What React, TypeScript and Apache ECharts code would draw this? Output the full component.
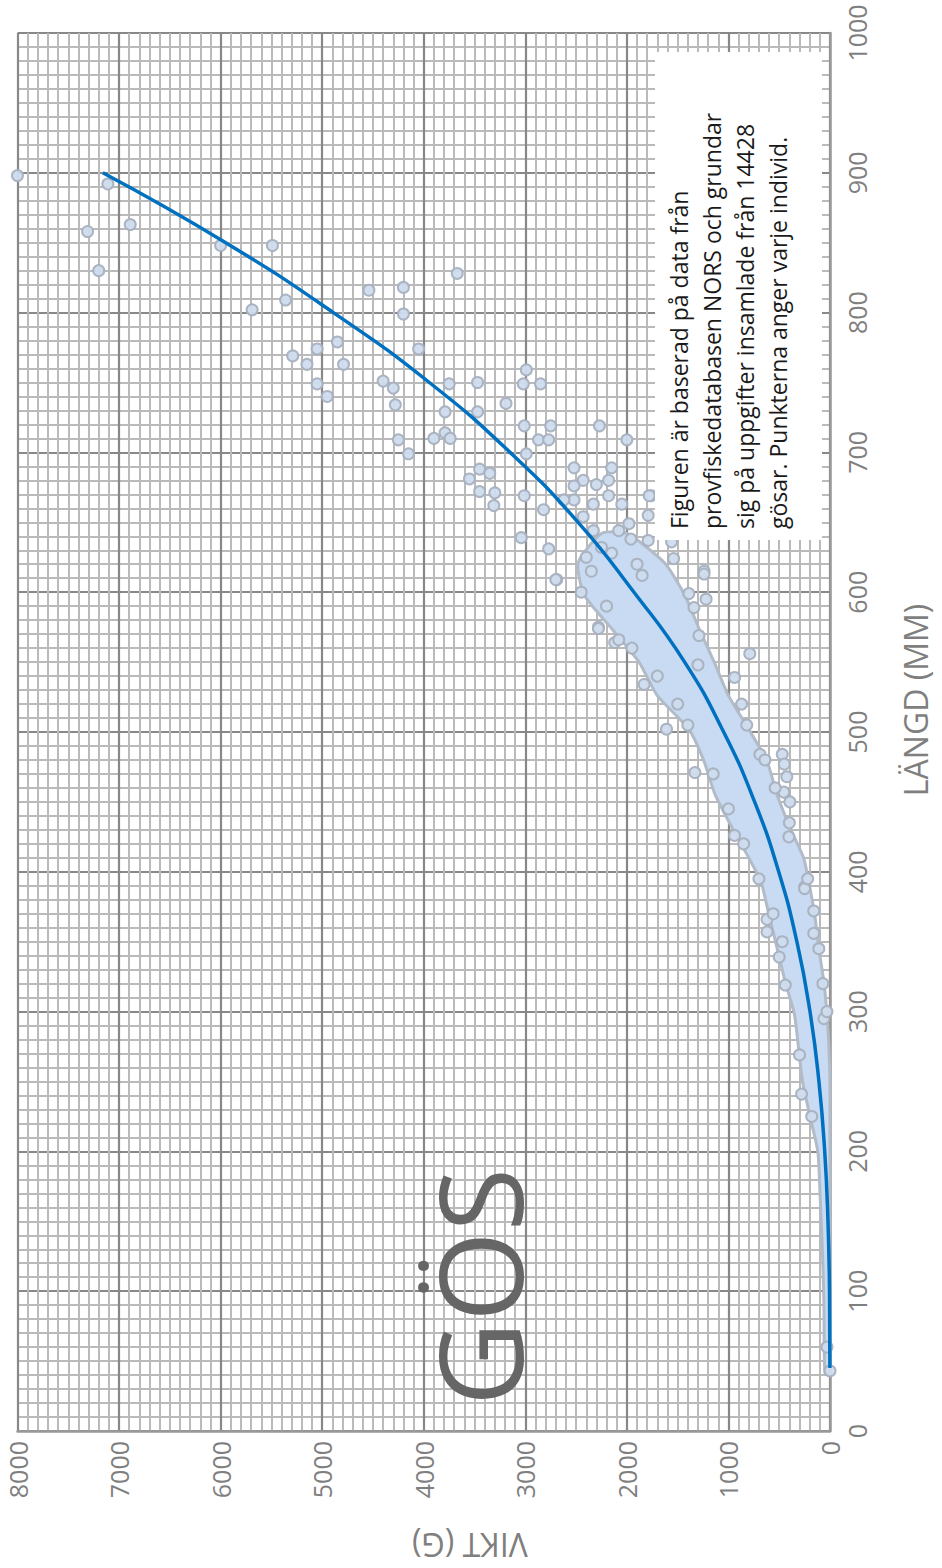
import React, { useEffect, useRef } from "react";
import * as echarts from "echarts";

// Fitted curve: length (mm) -> weight (g)
const curveLength = [45, 100, 150, 200, 250, 300, 350, 400, 450, 500, 550, 600, 650, 700, 750, 800, 850, 900];
const curveWeight = [1, 5, 20, 52, 109, 197, 326, 505, 742, 1047, 1431, 1930, 2480, 3150, 3945, 4890, 5950, 7160];

// Dense cloud of individuals (visual envelope), by length
const bandLength = [42, 93, 129, 164, 200, 226, 250, 274, 298, 321, 345, 369, 393, 410, 431, 455, 479, 502, 526, 550, 574, 598, 621, 642];
const bandMaxWeight = [50, 60, 75, 95, 120, 200, 270, 310, 350, 440, 520, 600, 680, 800, 960, 1130, 1240, 1390, 1700, 1880, 2150, 2420, 2480, 2250];
const bandMinWeight = [0, 0, 0, 0, 0, 0, 0, 10, 30, 60, 110, 150, 210, 260, 390, 520, 620, 800, 1000, 1140, 1290, 1430, 1630, 2000];

// Individual points: [weight g, length mm]
const individuals: number[][] = [
  [8000, 898], [7110, 892], [7310, 858], [6890, 863], [7200, 830], [6000, 848], [5490, 848],
  [5690, 802], [5360, 809], [4540, 816], [4200, 818], [4200, 799], [3670, 828], [4050, 774],
  [5290, 769], [5050, 774], [5150, 763], [4850, 779], [4790, 763], [5050, 749], [4950, 740],
  [4400, 751], [4300, 746], [4280, 734], [4250, 709], [4150, 699], [3750, 749], [3790, 729],
  [3900, 710], [3790, 714], [3740, 710], [3470, 750], [3470, 729],
  [3190, 735], [2990, 759], [3020, 749], [2850, 749], [3010, 719], [2750, 719], [2870, 709],
  [2770, 709], [2270, 719], [2000, 709], [2990, 699], [3450, 688], [3550, 681], [3350, 685],
  [3450, 672], [3300, 671], [3310, 662], [3010, 669], [2820, 659], [2520, 689], [2430, 680],
  [2520, 676], [2300, 677], [2150, 689], [2180, 680], [2180, 669], [2050, 663], [2520, 666],
  [2330, 663], [2620, 666], [2430, 654], [2330, 644], [1980, 649], [1960, 638], [2080, 644],
  [1790, 637], [1760, 669], [1540, 624], [1240, 615], [1220, 595], [1390, 599], [3040, 639],
  [2770, 631], [2690, 609], [2280, 575], [2120, 564], [1780, 669], [1790, 655], [1560, 636],
  [470, 484], [450, 477], [425, 468], [455, 457], [395, 450], [690, 484], [1330, 471],
  [1830, 534], [1610, 502], [870, 520], [940, 539], [790, 556], [1290, 569], [1240, 613],
  [1340, 589], [2280, 574], [2080, 566], [2700, 609], [940, 426], [405, 425], [250, 389],
  [620, 366], [620, 357], [500, 339], [440, 319], [300, 269], [280, 241], [180, 225],
  [250, 388], [160, 356], [60, 295], [0, 43], [30, 60],
  [2400, 625], [2250, 632], [2150, 628], [1900, 620], [2350, 615], [1850, 612], [2450, 600],
  [2200, 590], [1700, 540], [1500, 520], [1400, 505], [1150, 470], [1000, 445], [850, 420],
  [700, 395], [560, 370], [470, 350], [820, 505], [640, 480], [540, 460], [400, 435],
  [220, 395], [160, 372], [110, 345], [70, 320], [30, 300], [1950, 560], [1300, 548],
];

const title = "GÖS";
const note =
  "Figuren är baserad på data från\nprovfiskedatabasen NORS och grundar\nsig på uppgifter insamlade från 14428\ngösar. Punkterna anger varje individ.";
const xName = "VIKT (G)";
const yName = "LÄNGD (MM)";

const FONT = "'Open Sans', 'Noto Sans', sans-serif";

export default function App() {
  const ref = useRef<HTMLDivElement>(null);

  useEffect(() => {
    if (!ref.current) return;
    const chart = echarts.init(ref.current, undefined, { renderer: "svg" });

    const axisCommon = {
      type: "value" as const,
      axisTick: { show: false },
      splitLine: { show: true, lineStyle: { color: "#888888", width: 2.2 } },
      minorTick: { show: false, splitNumber: 10 },
      minorSplitLine: { show: true, lineStyle: { color: "#bababa", width: 2 } },
    };

    chart.setOption({
      animation: false,
      backgroundColor: "#ffffff",
      grid: { left: 17.5, right: 112, top: 33, bottom: 137, containLabel: false },
      xAxis: {
        ...axisCommon,
        min: 0,
        max: 8000,
        interval: 1000,
        inverse: true,
        position: "bottom",
        axisLine: { show: true, onZero: false, lineStyle: { color: "#999999", width: 2.5 } },
        axisLabel: {
          rotate: 90,
          margin: 10,
          color: "#7f7f7f",
          fontSize: 25,
          fontFamily: FONT,
          formatter: (v: number) => String(v),
        },
      },
      yAxis: {
        ...axisCommon,
        min: 0,
        max: 1000,
        interval: 100,
        position: "right",
        axisLine: { show: true, onZero: false, lineStyle: { color: "#999999", width: 2.5 } },
        axisLabel: {
          rotate: 90,
          margin: 14,
          color: "#7f7f7f",
          fontSize: 25,
          fontFamily: FONT,
          formatter: (v: number) => String(v),
        },
      },
      series: [
        {
          type: "custom",
          z: 2,
          data: bandLength.map((l, i) => [bandMaxWeight[i], l, bandMinWeight[i]]),
          renderItem: (params: any, api: any) => {
            if (params.dataIndex !== 0) return null;
            const pts: number[][] = [];
            for (let i = 0; i < bandLength.length; i++) pts.push(api.coord([bandMaxWeight[i], bandLength[i]]));
            for (let i = bandLength.length - 1; i >= 0; i--) pts.push(api.coord([bandMinWeight[i], bandLength[i]]));
            return {
              type: "polygon",
              shape: { points: pts, smooth: 0.2 },
              style: { fill: "#c8dbf2", stroke: "#b2bbc8", lineWidth: 3 },
            };
          },
        },
        {
          type: "scatter",
          z: 3,
          symbol: "circle",
          symbolSize: 11,
          data: individuals,
          itemStyle: { color: "#cfdcee", borderColor: "#a8b1bf", borderWidth: 2, opacity: 0.95 },
        },
        {
          type: "line",
          z: 4,
          smooth: true,
          symbol: "none",
          data: curveLength.map((l, i) => [curveWeight[i], l]),
          lineStyle: { color: "#0070c0", width: 3.5 },
        },
      ],
      graphic: [
        {
          type: "rect",
          z: 100,
          shape: { x: 655, y: 52, width: 167, height: 488 },
          style: { fill: "#ffffff" },
        },
        {
          type: "text",
          z: 101,
          x: 662,
          y: 529,
          rotation: Math.PI / 2,
          style: {
            text: note,
            fill: "#1a1a1a",
            font: `23px ${FONT}`,
            lineHeight: 33,
            textAlign: "left",
            textVerticalAlign: "top",
          },
        },
        {
          type: "text",
          z: 101,
          x: 478,
          y: 1287,
          rotation: Math.PI / 2,
          style: {
            text: title,
            fill: "#666666",
            font: `400 116px ${FONT}`,
            textAlign: "center",
            textVerticalAlign: "middle",
          },
        },
        {
          type: "text",
          z: 101,
          x: 915,
          y: 700,
          rotation: Math.PI / 2,
          style: {
            text: yName,
            fill: "#7f7f7f",
            font: `32px ${FONT}`,
            textAlign: "center",
            textVerticalAlign: "middle",
          },
        },
        {
          type: "text",
          z: 101,
          x: 470,
          y: 1545,
          rotation: Math.PI,
          style: {
            text: xName,
            fill: "#7f7f7f",
            font: `32px ${FONT}`,
            textAlign: "center",
            textVerticalAlign: "middle",
          },
        },
      ],
    });

    return () => chart.dispose();
  }, []);

  return (
    <div
      ref={ref}
      style={{ position: "fixed", left: 0, top: 0, width: 942, height: 1568, background: "#fff" }}
    />
  );
}
